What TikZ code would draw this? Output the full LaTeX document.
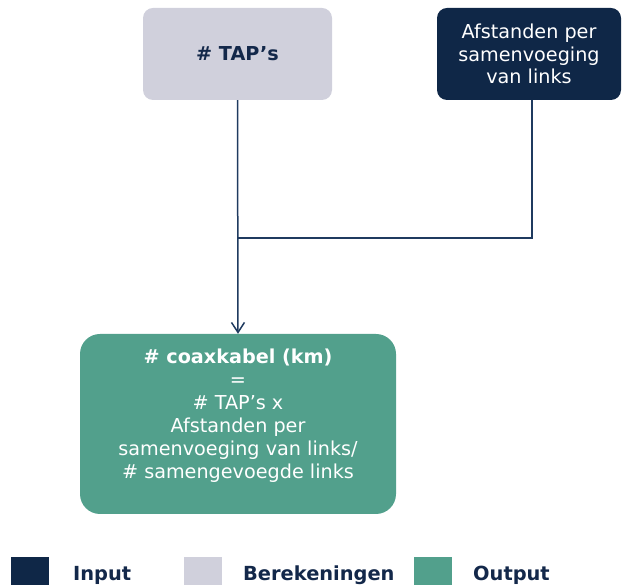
\documentclass[tikz,border=0pt]{standalone}
\usepackage{fontspec}
\setmainfont{DejaVu Sans}
\usetikzlibrary{arrows.meta}
\definecolor{navy}{HTML}{0F2747}
\definecolor{calc}{HTML}{D0D0DC}
\definecolor{outc}{HTML}{52A08C}
\definecolor{linec}{HTML}{1F3A5F}
\definecolor{txtnavy}{HTML}{13284A}
\tikzset{
  boxbase/.style={rounded corners=10pt, inner sep=0pt, align=center,
    font=\fontsize{19.2}{22.5}\selectfont},
  calcbox/.style={boxbase, fill=calc, text=txtnavy, minimum width=189pt, minimum height=92pt},
  inbox/.style={boxbase, fill=navy, text=white, minimum width=184pt, minimum height=92pt},
  outbox/.style={boxbase, rounded corners=20pt, fill=outc, minimum width=316pt, minimum height=180pt},
  outtext/.style={align=center, text=white, inner sep=0pt, font=\fontsize{19.2}{23}\selectfont},
  conn/.style={draw=linec, line width=1.5pt},
  legsq/.style={minimum width=38pt, minimum height=28pt, inner sep=0pt},
  legtxt/.style={anchor=west, text=txtnavy, inner sep=0pt, font=\fontsize{19.4}{22}\selectfont\bfseries}
}
\begin{document}
\begin{tikzpicture}[x=1pt,y=1pt]
\useasboundingbox (0,0) rectangle (622,588);
% boxes
\node[calcbox] (tap) at (237.5,534) {\bfseries \# TAP’s};
\node[inbox] (inp) at (529,534) {Afstanden per\\samenvoeging\\van links};
\node[outbox] (out) at (238,164) {};
\node[outtext] (outt) at (238,172.5) {\bfseries \# coaxkabel (km)\\=\\\# TAP’s x\\Afstanden per\\samenvoeging van links/\\\# samengevoegde links};
% connectors
\coordinate (j) at (tap.south |- 0,350);
\draw[conn, -{Straight Barb[length=10pt,width=13pt,line width=1.5pt]}] (tap.south) -- (out.north);
\draw[conn] (inp.south -| 532,0) |- (j);
% legend
\node[legsq, fill=navy] (l1) at (30,17) {};
\node[legtxt] (t1) at (73,13) {Input};
\node[legsq, fill=calc] (l2) at (203,17) {};
\node[legtxt] (t2) at (243,13) {Berekeningen};
\node[legsq, fill=outc] (l3) at (433,17) {};
\node[legtxt] (t3) at (473,13) {Output};
\end{tikzpicture}
\end{document}
